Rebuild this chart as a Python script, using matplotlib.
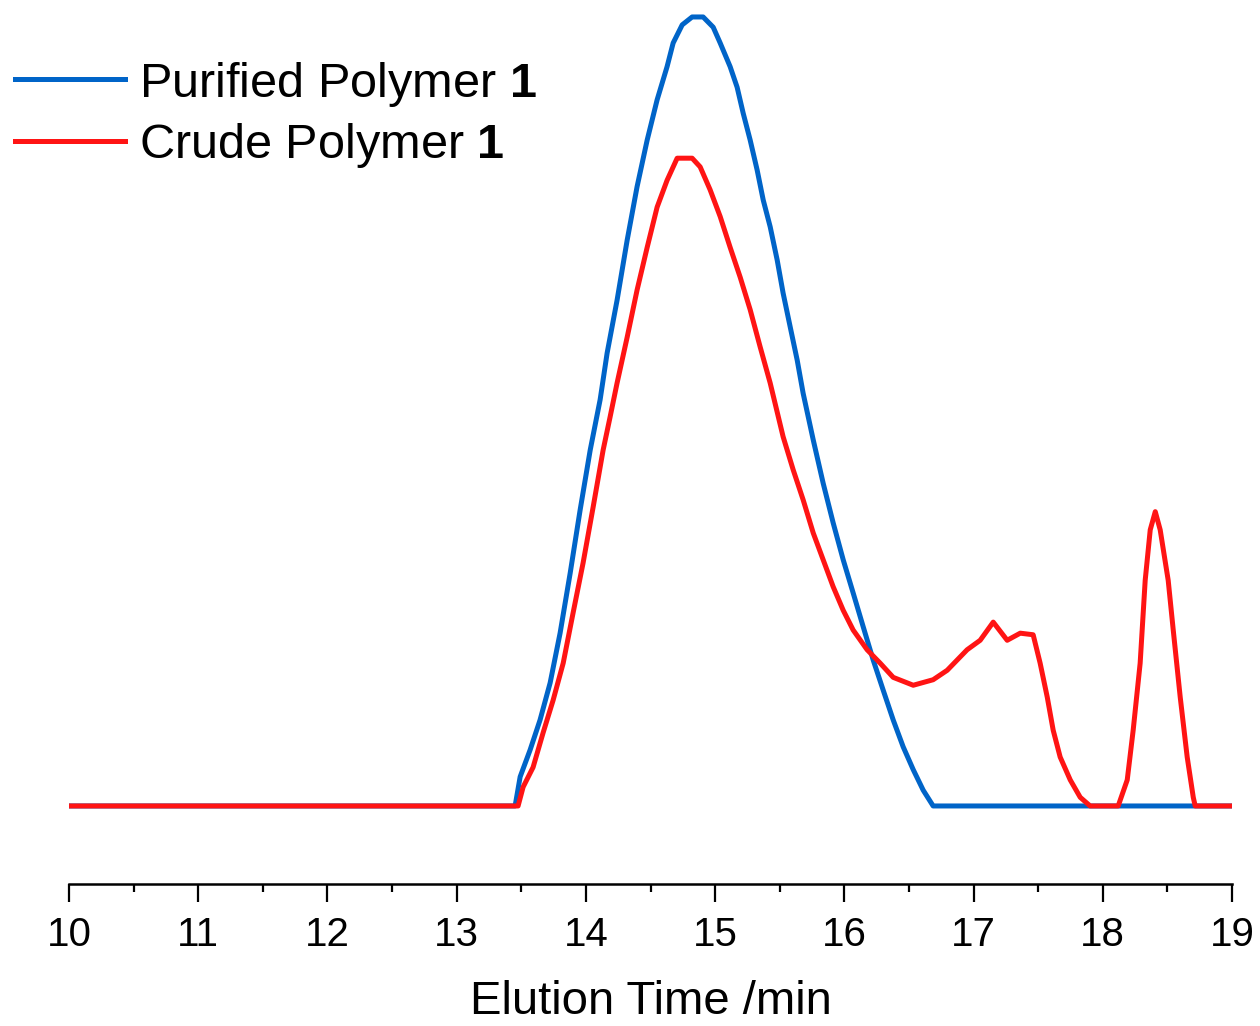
import matplotlib
matplotlib.use("Agg")
import matplotlib.pyplot as plt

plt.rcParams["font.family"] = ["Liberation Sans", "DejaVu Sans"]
plt.rcParams["mathtext.fontset"] = "custom"
plt.rcParams["mathtext.rm"] = "Liberation Sans"
plt.rcParams["mathtext.bf"] = "Liberation Sans:bold"

# elution time (min) and normalised detector signal
purified_t = [10.0, 13.452, 13.491, 13.568, 13.645, 13.723, 13.800, 13.878, 13.955,
              14.033, 14.110, 14.164, 14.241, 14.319, 14.396, 14.474, 14.551, 14.628,
              14.675, 14.745, 14.822, 14.907, 14.985, 15.039, 15.116, 15.170, 15.217,
              15.271, 15.325, 15.372, 15.426, 15.480, 15.526, 15.581, 15.635, 15.681,
              15.759, 15.836, 15.913, 15.991, 16.068, 16.146, 16.223, 16.300, 16.378,
              16.455, 16.533, 16.610, 16.687, 19.0]
purified_y = [0.0, 0.0, 0.037, 0.071, 0.109, 0.156, 0.219, 0.295, 0.375,
              0.451, 0.515, 0.574, 0.641, 0.717, 0.785, 0.844, 0.895, 0.937,
              0.967, 0.990, 1.0, 1.0, 0.987, 0.967, 0.937, 0.911, 0.878,
              0.844, 0.806, 0.768, 0.734, 0.692, 0.650, 0.607, 0.565, 0.523,
              0.464, 0.409, 0.359, 0.312, 0.270, 0.227, 0.185, 0.147, 0.109,
              0.075, 0.046, 0.020, 0.0, 0.0]

crude_t = [10.0, 13.475, 13.514, 13.591, 13.669, 13.746, 13.824, 13.901, 13.978,
           14.056, 14.133, 14.187, 14.241, 14.319, 14.396, 14.474, 14.551, 14.628,
           14.706, 14.822, 14.884, 14.961, 15.039, 15.116, 15.194, 15.271, 15.348,
           15.426, 15.526, 15.604, 15.681, 15.759, 15.836, 15.913, 15.991, 16.068,
           16.176, 16.277, 16.378, 16.533, 16.687, 16.796, 16.873, 16.950, 17.051,
           17.152, 17.260, 17.361, 17.461, 17.515, 17.570, 17.616, 17.670, 17.748,
           17.825, 17.902, 18.119, 18.189, 18.235, 18.289, 18.328, 18.367, 18.406,
           18.444, 18.506, 18.545, 18.599, 18.653, 18.700, 18.715, 19.0]
crude_y = [0.0, 0.0, 0.024, 0.049, 0.093, 0.134, 0.181, 0.245, 0.308,
           0.379, 0.451, 0.493, 0.536, 0.594, 0.654, 0.708, 0.759, 0.793,
           0.821, 0.821, 0.810, 0.781, 0.747, 0.708, 0.670, 0.629, 0.582,
           0.536, 0.468, 0.426, 0.388, 0.346, 0.312, 0.278, 0.248, 0.223,
           0.198, 0.181, 0.163, 0.153, 0.160, 0.172, 0.185, 0.198, 0.210,
           0.233, 0.210, 0.219, 0.217, 0.181, 0.138, 0.096, 0.062, 0.033,
           0.011, 0.0, 0.0, 0.033, 0.096, 0.181, 0.286, 0.350, 0.373,
           0.350, 0.286, 0.223, 0.138, 0.062, 0.011, 0.0, 0.0]

x_ticks = list(range(10, 20))

fig = plt.figure(figsize=(12.6, 10.26), dpi=100)
ax = fig.add_axes([0.0548, 0.1384, 0.923, 0.8616])

ax.plot(purified_t, purified_y, color="#0064C8", lw=3.6,
        label="Purified Polymer $\\mathbf{1}$", zorder=2)
ax.plot(crude_t, crude_y, color="#FF1414", lw=3.6,
        label="Crude Polymer $\\mathbf{1}$", zorder=3)

ax.set_xlim(10, 19)
ax.set_ylim(-0.0989, 1.0215)

for side in ("left", "right", "top"):
    ax.spines[side].set_visible(False)
ax.spines["bottom"].set_linewidth(1.8)
ax.set_yticks([])

ax.set_xticks(x_ticks)
ax.set_xticks([t + 0.5 for t in x_ticks[:-1]], minor=True)
ax.tick_params(axis="x", which="major", length=13, width=1.6, labelsize=29, pad=10)
ax.tick_params(axis="x", which="minor", length=6, width=1.6)
ax.set_xlabel("Elution Time /min", fontsize=34, labelpad=19)

fig.legend(loc="upper left", bbox_to_anchor=(0.0119, 0.942), frameon=False,
           fontsize=35, handlelength=2.26, handletextpad=0.29, labelspacing=0.25,
           borderpad=0, borderaxespad=0)

fig.savefig("out.png", dpi=100)
plt.close(fig)
